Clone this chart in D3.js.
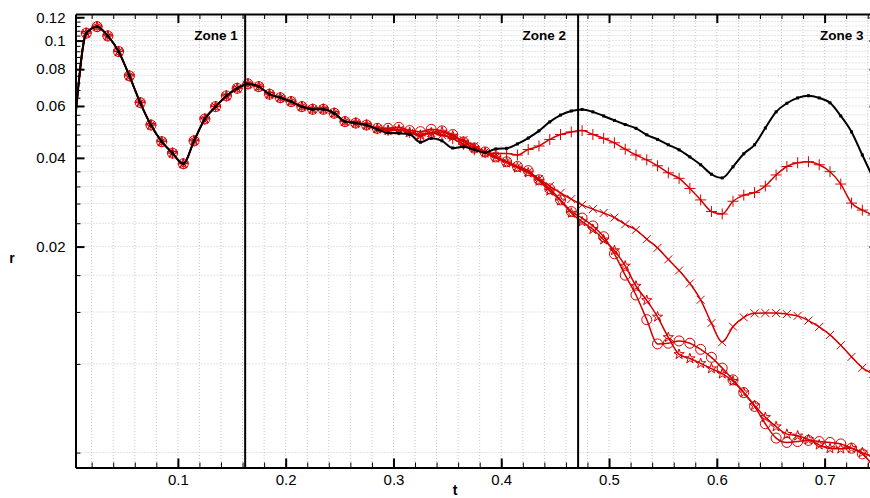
<!DOCTYPE html>
<html><head><meta charset="utf-8">
<script src="https://cdn.jsdelivr.net/npm/d3@7/dist/d3.min.js"></script>
<style>body{margin:0;background:#fff}svg{display:block}</style>
</head><body>
<svg id="c" width="870" height="498"></svg>
<script>
// ---------- data ----------
const tVals = [0.005,0.015,0.025,0.035,0.045,0.055,0.065,0.075,0.085,0.095,
  0.105,0.115,0.125,0.135,0.145,0.155,0.165,0.175,0.185,0.195,
  0.205,0.215,0.225,0.235,0.245,0.255,0.265,0.275,0.285,0.295,
  0.305,0.315,0.325,0.335,0.345,0.355,0.365,0.375,0.385,0.395,
  0.405,0.415,0.425,0.435,0.445,0.455,0.465,0.475,0.485,0.495,
  0.505,0.515,0.525,0.535,0.545,0.555,0.565,0.575,0.585,0.595,
  0.605,0.615,0.625,0.635,0.645,0.655,0.665,0.675,0.685,0.695,
  0.705,0.715,0.725,0.735,0.745];

const commonStart = [0.055,0.106,0.1115,0.1037,0.0918,0.0759,0.0616,0.0517,0.0454,0.0415,
  0.0382,0.0457,0.0542,0.0597,0.0649,0.0689,0.0713,0.0698,0.0658,0.064,
  0.0621,0.0597,0.0585,0.0585,0.0567,0.0531,0.0525,0.0517];

const blackTail = [0.0500,0.0486,0.0485,0.0481,0.0452,0.0466,0.0457,0.0432,0.0436,0.0426,
  0.0417,0.0429,0.0431,0.0446,0.0467,0.0494,0.0530,0.0559,0.0577,0.0584,
  0.0573,0.0555,0.0536,0.0519,0.0504,0.0479,0.0462,0.0443,0.0426,0.0403,
  0.0379,0.0352,0.0342,0.0373,0.0413,0.0443,0.0505,0.0573,0.0613,0.0639,
  0.0650,0.0639,0.0615,0.0555,0.0490,0.0409,0.0342];

const plusTail = [0.0502,0.0496,0.0498,0.0488,0.0475,0.0486,0.0478,0.0465,0.0445,0.0426,
  0.0416,0.0414,0.0414,0.0409,0.0427,0.0439,0.0462,0.0480,0.0490,0.0495,
  0.0480,0.0466,0.0450,0.0428,0.0409,0.0394,0.0376,0.0356,0.0341,0.0315,
  0.0288,0.0263,0.0258,0.0285,0.0299,0.0305,0.0321,0.0350,0.0374,0.0385,
  0.0388,0.0379,0.0359,0.0326,0.0281,0.0266,0.0256];

const crossTail = [0.0502,0.0496,0.0498,0.0488,0.0478,0.0486,0.0478,0.0468,0.0460,0.0439,
  0.0419,0.0403,0.0388,0.0373,0.0358,0.0339,0.0321,0.0304,0.0290,0.0277,
  0.0268,0.0260,0.0251,0.0238,0.0228,0.0212,0.0198,0.0181,0.0166,0.0150,
  0.0132,0.0110,0.00948,0.0107,0.0115,0.01187,0.0119,0.0119,0.0118,0.01164,
  0.01122,0.01068,0.01003,0.00925,0.00845,0.00776,0.0074];

const circleTail = [0.0504,0.0504,0.0508,0.0495,0.0491,0.0500,0.0494,0.0480,0.0453,0.0432,
  0.0419,0.0403,0.0388,0.0374,0.0362,0.0337,0.0314,0.0288,0.0263,0.0250,
  0.0235,0.0216,0.0189,0.0160,0.0137,0.0113,0.00935,0.0094,0.00957,0.0094,
  0.00896,0.00842,0.00774,0.00706,0.00639,0.00574,0.00501,0.00448,0.00433,0.00436,
  0.0044,0.00436,0.00433,0.00428,0.00414,0.00396,0.00361];

const starTail = [0.0502,0.0496,0.0498,0.0488,0.0478,0.0486,0.0490,0.0475,0.0453,0.0432,
  0.0416,0.0400,0.0385,0.0370,0.0356,0.0334,0.0309,0.0286,0.0260,0.0243,
  0.0229,0.0211,0.0194,0.0172,0.0147,0.01314,0.01155,0.00984,0.00862,0.00834,
  0.00803,0.00771,0.0074,0.00699,0.00639,0.00578,0.00527,0.0049,0.00462,0.00456,
  0.00443,0.00425,0.00413,0.00412,0.00414,0.0040,0.00387];

const seriesBlack  = commonStart.concat(blackTail);
const seriesPlus   = commonStart.concat(plusTail);
const seriesCross  = commonStart.concat(crossTail);
const seriesCircle = commonStart.concat(circleTail);
const seriesStar   = commonStart.concat(starTail);

const zoneBounds = [0.1624, 0.4713];
const zoneLabels = ["Zone 1", "Zone 2", "Zone 3"];
const zoneLabelT = [0.1555, 0.4600, 0.7360];

const xTickValues = [0.1,0.2,0.3,0.4,0.5,0.6,0.7];
const xTickLabels = ["0.1","0.2","0.3","0.4","0.5","0.6","0.7"];
const yTickValues = [0.02,0.04,0.06,0.08,0.1,0.12];
const yTickLabels = ["0.02","0.04","0.06","0.08","0.1","0.12"];

// ---------- layout ----------
const L = 75.5, R = 878.5, T = 14, B = 467.5;
const RED = "#d40000";
const FONT = "'Liberation Sans', Arial, Helvetica, sans-serif";

const x = d3.scaleLinear().domain([0.005, 0.75]).range([L, R]);
const y = d3.scaleLog().domain([0.00356, 0.1231]).range([B, T]);

const svg = d3.select("#c");
svg.append("defs").append("clipPath").attr("id","clip")
  .append("rect").attr("x",L).attr("y",T).attr("width",R-L).attr("height",B-T);

const xMinor = d3.range(1, 38).map(i => +(i*0.02).toFixed(2));
const yMinor = d3.range(1, 31).map(i => +(i*0.004).toFixed(3));

// grid
const grid = svg.append("g").attr("stroke","#c8c8c8").attr("stroke-width",1).attr("stroke-dasharray","1,2");
grid.selectAll(".gx").data(xMinor).join("line")
  .attr("x1",d=>x(d)).attr("x2",d=>x(d)).attr("y1",T).attr("y2",B);
grid.selectAll(".gy").data(yMinor).join("line")
  .attr("x1",L).attr("x2",R).attr("y1",d=>y(d)).attr("y2",d=>y(d));

// data
const plot = svg.append("g").attr("clip-path","url(#clip)");
const line = d3.line().x((d,i)=>x(tVals[i])).y(d=>y(d)).curve(d3.curveMonotoneX);

function drawSeries(vals, color, width, marker) {
  plot.append("path").attr("d", line(vals)).attr("fill","none")
    .attr("stroke",color).attr("stroke-width",width);
  const pts = vals.map((v,i)=>[x(tVals[i]), y(v)]).filter((p,i)=>i>0);
  const g = plot.append("g");
  pts.forEach(([px,py])=>{
    if (marker==="circle") {
      g.append("circle").attr("cx",px).attr("cy",py).attr("r",5)
        .attr("fill","none").attr("stroke",color).attr("stroke-width",1);
    } else if (marker==="plus") {
      g.append("path").attr("d",`M${px-5.5},${py}H${px+5.5}M${px},${py-5.5}V${py+5.5}`)
        .attr("stroke",color).attr("stroke-width",1);
    } else if (marker==="cross") {
      g.append("path").attr("d",`M${px-4},${py-4}L${px+4},${py+4}M${px-4},${py+4}L${px+4},${py-4}`)
        .attr("stroke",color).attr("stroke-width",1);
    } else if (marker==="star") {
      g.append("path").attr("d",d3.symbol(d3.symbolStar,32)()).attr("transform",`translate(${px},${py})`)
        .attr("fill","none").attr("stroke",color).attr("stroke-width",1);
    } else if (marker==="square") {
      g.append("rect").attr("x",px-1.5).attr("y",py-1.5).attr("width",3).attr("height",3).attr("fill",color);
    }
  });
}
drawSeries(seriesCircle, RED, 1.5, "circle");
drawSeries(seriesStar, RED, 1.5, "star");
drawSeries(seriesCross, RED, 1.5, "cross");
drawSeries(seriesPlus, RED, 1.5, "plus");
drawSeries(seriesBlack, "#000", 2, "square");

// zone lines
svg.append("g").selectAll("line").data(zoneBounds).join("line")
  .attr("x1",d=>x(d)).attr("x2",d=>x(d)).attr("y1",T).attr("y2",B)
  .attr("stroke","#000").attr("stroke-width",2);
svg.append("g").selectAll("text").data(zoneLabels).join("text")
  .attr("x",(d,i)=>x(zoneLabelT[i])).attr("y",40).attr("text-anchor","end")
  .attr("font-family",FONT).attr("font-weight","bold").attr("font-size",13.5).text(d=>d);

// axes
function styleAxis(s){ s.select(".domain").attr("stroke","#000").attr("stroke-width",2);
  s.selectAll(".tick line").attr("stroke","#000").attr("stroke-width",2);
  s.selectAll("text").attr("font-family",FONT).attr("font-size",15).attr("fill","#000"); }
function styleMinor(s){ s.select(".domain").remove();
  s.selectAll(".tick line").attr("stroke","#000").attr("stroke-width",1); }

svg.append("g").attr("transform",`translate(0,${B})`)
  .call(d3.axisBottom(x).tickValues(xMinor).tickSize(-5).tickFormat("")).call(styleMinor);
svg.append("g").attr("transform",`translate(0,${T})`)
  .call(d3.axisTop(x).tickValues(xMinor).tickSize(-5).tickFormat("")).call(styleMinor);
svg.append("g").attr("transform",`translate(${L},0)`)
  .call(d3.axisLeft(y).tickValues(yMinor).tickSize(-5).tickFormat("")).call(styleMinor);
svg.append("g").attr("transform",`translate(${R},0)`)
  .call(d3.axisRight(y).tickValues(yMinor).tickSize(-5).tickFormat("")).call(styleMinor);

svg.append("g").attr("transform",`translate(0,${B})`)
  .call(d3.axisBottom(x).tickValues(xTickValues).tickSize(-9).tickPadding(7)
    .tickFormat((d,i)=>xTickLabels[i]).tickSizeOuter(0)).call(styleAxis);
svg.append("g").attr("transform",`translate(0,${T})`)
  .call(d3.axisTop(x).tickValues(xTickValues).tickSize(-9).tickFormat("").tickSizeOuter(0)).call(styleAxis);
svg.append("g").attr("transform",`translate(${L},0)`)
  .call(d3.axisLeft(y).tickValues(yTickValues).tickSize(-9).tickPadding(10)
    .tickFormat((d,i)=>yTickLabels[i]).tickSizeOuter(0)).call(styleAxis);
svg.append("g").attr("transform",`translate(${R},0)`)
  .call(d3.axisRight(y).tickValues(yTickValues).tickSize(-9).tickFormat("").tickSizeOuter(0)).call(styleAxis);

// axis titles
svg.append("text").attr("x",455).attr("y",495).attr("text-anchor","middle")
  .attr("font-family",FONT).attr("font-weight","bold").attr("font-size",14).text("t");
svg.append("text").attr("x",12).attr("y",263).attr("text-anchor","middle")
  .attr("font-family",FONT).attr("font-weight","bold").attr("font-size",14).text("r");
</script>
</body></html>
